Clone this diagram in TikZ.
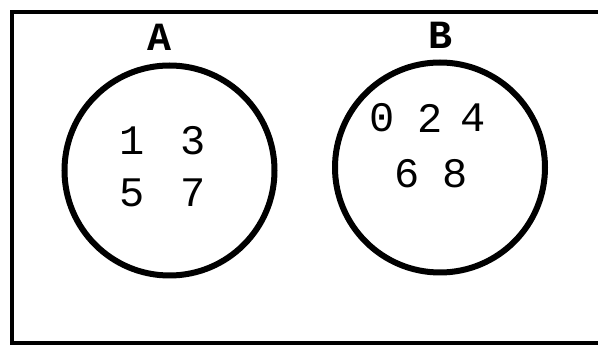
\documentclass[tikz,border=0pt]{standalone}
\usepackage{fontspec}
\setmonofont{Liberation Mono}
\begin{document}
\begin{tikzpicture}[x=1pt,y=-1pt,
  frame/.style={line width=4pt,line cap=rect},
  setcircle/.style={draw,circle,line width=6pt,minimum size=210pt,inner sep=0pt},
  setlabel/.style={font=\ttfamily\bfseries\fontsize{40}{40}\selectfont,inner sep=0pt},
  elem/.style={font=\ttfamily\fontsize{42}{42}\selectfont,inner sep=0pt}]
\useasboundingbox (0,0) rectangle (598,347);
\coordinate (tl) at (12,12);
\coordinate (tr) at (600,12);
\coordinate (bl) at (12,343);
\coordinate (br) at (600,343);
\draw[frame] (tr) -- (tl) -- (bl) -- (br);
\node[setcircle] (ca) at (169.5,170.5) {};
\node[setcircle] (cb) at (440,167.5) {};
\node[setlabel] (la) at (160,37) {A};
\node[setlabel] (lb) at (440,35) {B};
\node[elem] (n1) at (132,141) {1};
\node[elem] (n3) at (193,141) {3};
\node[elem] (n5) at (132,193) {5};
\node[elem] (n7) at (193,193) {7};
\node[elem] (n0) at (382,118) {0};
\node[elem] (n2) at (430,118) {2};
\node[elem] (n4) at (473,118) {4};
\node[elem] (n6) at (407,174) {6};
\node[elem] (n8) at (455,174) {8};
\end{tikzpicture}
\end{document}
